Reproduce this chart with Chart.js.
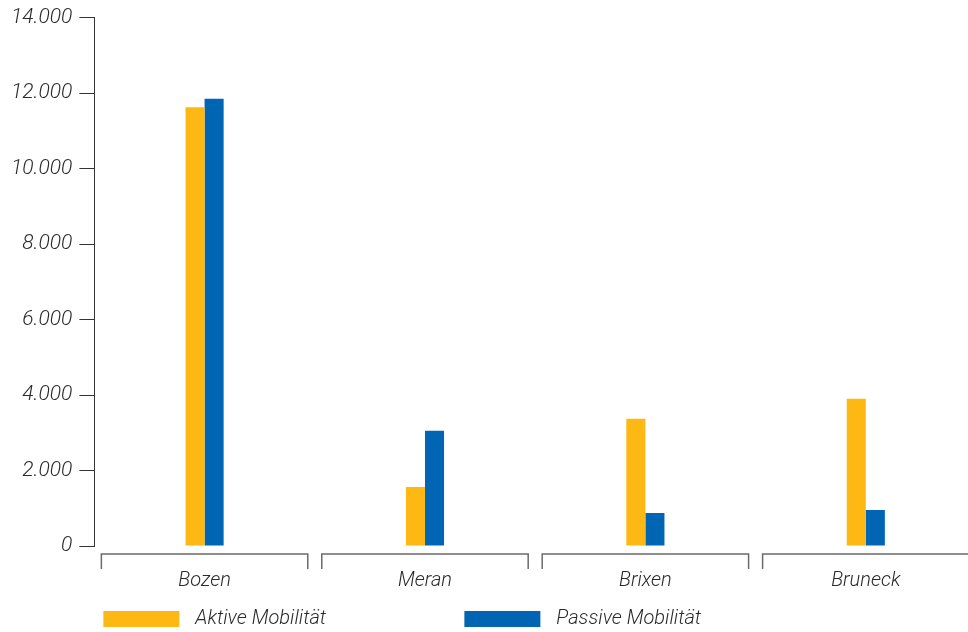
<!DOCTYPE html>
<html>
<head>
<meta charset="utf-8">
<script src="https://cdn.jsdelivr.net/npm/chart.js@4"></script>
<style>
  html, body { margin: 0; padding: 0; background: #fff; overflow: hidden; }
  #wrap { width: 976px; height: 632px; }
</style>
</head>
<body>
<div id="wrap"><canvas id="mobilityChart"></canvas></div>
<script>
// ** DATA **
const cities = ["Bozen", "Meran", "Brixen", "Bruneck"];
const aktiveMobilitaet = [11620, 1560, 3370, 3900];
const passiveMobilitaet = [11850, 3050, 875, 955];
const yTicks = [0, 2000, 4000, 6000, 8000, 10000, 12000, 14000];

const FONT = "'Roboto', 'Liberation Sans', sans-serif";
const TEXT_COLOR = "#2a2a2a";

// formats 12000 -> "12.000"
function formatThousands(v) {
  return String(v).replace(/\B(?=(\d{3})+(?!\d))/g, ".");
}

// brackets under each category, built from the x scale
const bracketPlugin = {
  id: "brackets",
  afterDraw(chart) {
    const ctx = chart.ctx;
    const xScale = chart.scales.x;
    const area = chart.chartArea;
    const half = (area.right - area.left) / cities.length / 2;
    const y = area.bottom + 8;
    ctx.save();
    ctx.strokeStyle = "#6b6b6b";
    ctx.lineWidth = 1.5;
    cities.forEach((c, i) => {
      const cx = xScale.getPixelForValue(i);
      const l = cx - half + 7;
      const r = cx + half - 7;
      ctx.beginPath();
      ctx.moveTo(l, y + 15);
      ctx.lineTo(l, y);
      ctx.lineTo(r, y);
      ctx.lineTo(r, y + 15);
      ctx.stroke();
    });
    ctx.restore();
  },
};

// simple legend drawn below the axis labels
const legendPlugin = {
  id: "bottomLegend",
  afterDraw(chart) {
    const ctx = chart.ctx;
    const area = chart.chartArea;
    ctx.save();
    ctx.font = "italic 300 20px " + FONT;
    ctx.textBaseline = "middle";
    chart.data.datasets.forEach((ds, i) => {
      const x = area.left + 9 + i * 361;
      const y = chart.height - 21;
      ctx.fillStyle = ds.backgroundColor;
      ctx.fillRect(x, y, 76, 16);
      ctx.fillStyle = TEXT_COLOR;
      ctx.fillText(ds.label, x + 92, y + 8);
    });
    ctx.restore();
  },
};

const ctx = document.getElementById("mobilityChart").getContext("2d");
const mobilityChart = new Chart(ctx, {
  type: "bar",
  data: {
    labels: cities,
    datasets: [
      {
        label: "Aktive Mobilität",
        data: aktiveMobilitaet,
        backgroundColor: "#FDB813",
        categoryPercentage: 0.173,
        barPercentage: 1,
      },
      {
        label: "Passive Mobilität",
        data: passiveMobilitaet,
        backgroundColor: "#0066B3",
        categoryPercentage: 0.173,
        barPercentage: 1,
      },
    ],
  },
  options: {
    responsive: true,
    maintainAspectRatio: false,
    animation: false,
    layout: {
      padding: { left: 4, right: 0, top: 0, bottom: 16 },
    },
    plugins: {
      legend: { display: false },
      tooltip: { enabled: false },
    },
    scales: {
      x: {
        grid: { display: false, drawTicks: false },
        border: { display: false },
        ticks: {
          padding: 23,
          color: TEXT_COLOR,
          font: { family: FONT, size: 20, style: "italic", weight: 300, lineHeight: 1.2 },
        },
      },
      y: {
        min: 0,
        max: 14000,
        afterBuildTicks: (axis) => {
          axis.ticks = yTicks.map((v) => ({ value: v }));
        },
        grid: {
          drawOnChartArea: false,
          drawTicks: true,
          tickLength: 15,
          color: "#333333",
          lineWidth: 1,
        },
        border: { display: true, color: "#333333", width: 1 },
        ticks: {
          padding: 7,
          color: TEXT_COLOR,
          font: { family: FONT, size: 21, style: "italic", weight: 300, lineHeight: 1.0 },
          callback: (v) => formatThousands(v),
        },
      },
    },
  },
  plugins: [bracketPlugin, legendPlugin],
});
</script>
</body>
</html>
